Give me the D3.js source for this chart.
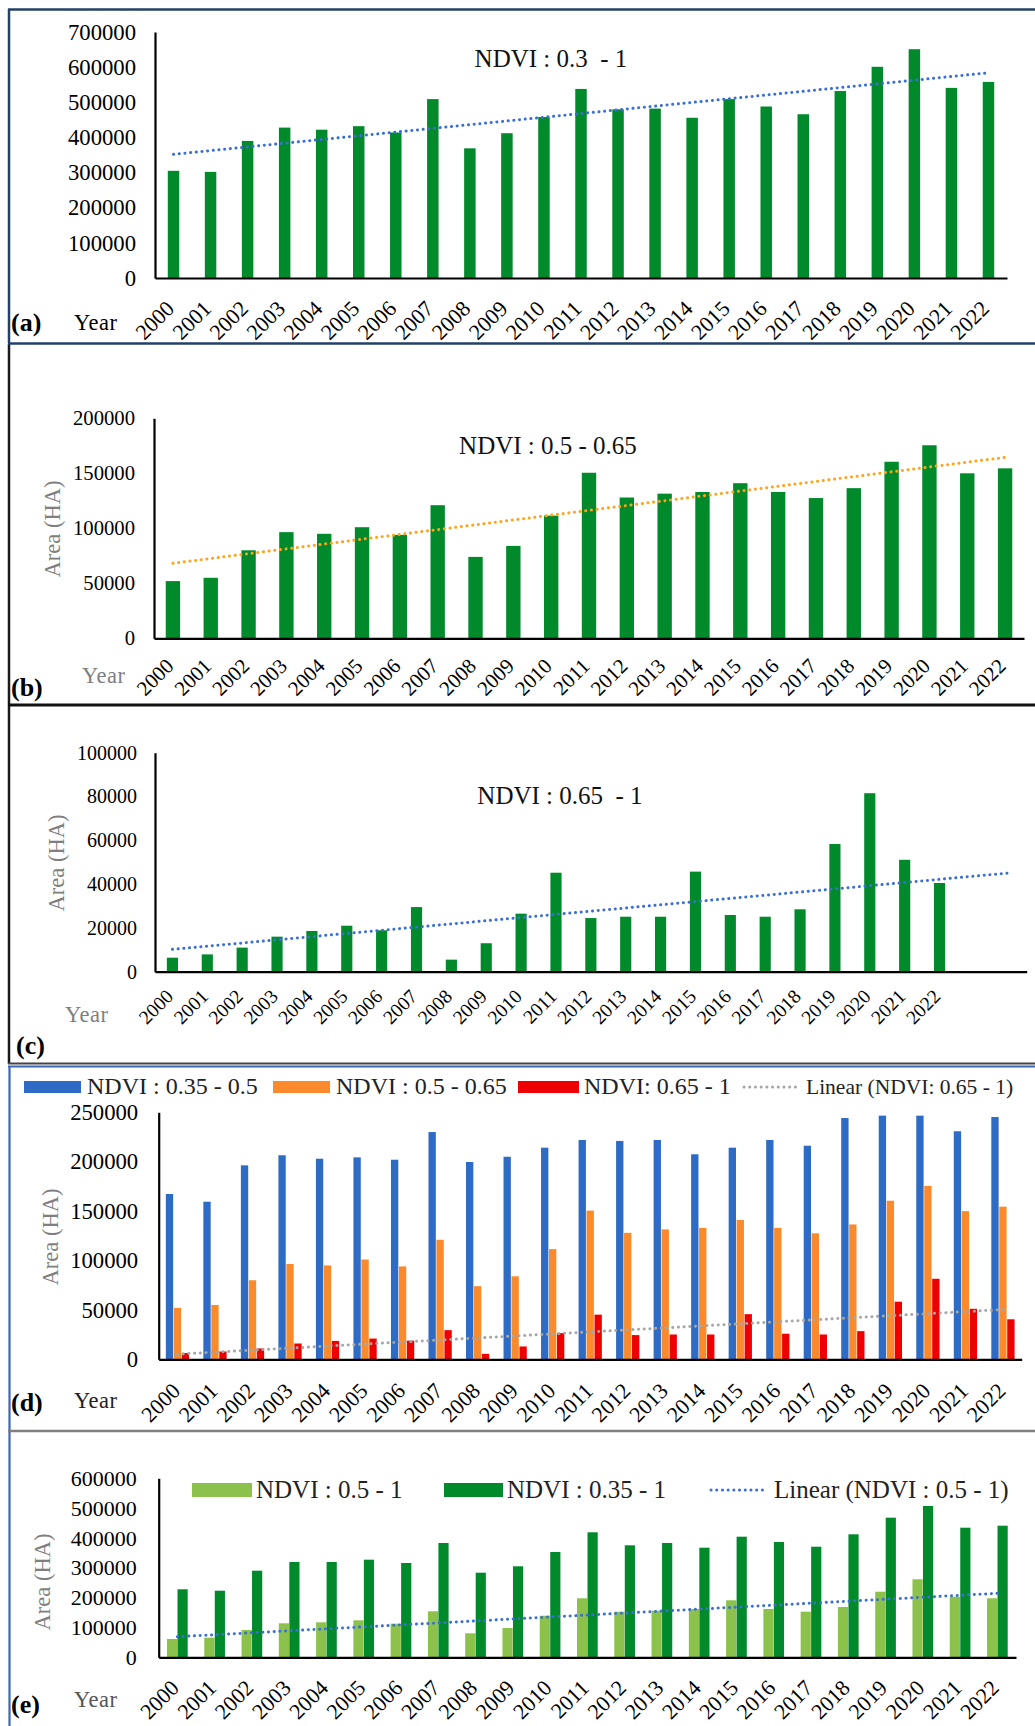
<!DOCTYPE html>
<html><head><meta charset="utf-8">
<script src="https://cdn.jsdelivr.net/npm/d3@7"></script>
<style>
body{margin:0;background:#fff}
svg{display:block}
text{font-family:"Liberation Serif","Times New Roman",serif}
</style>
</head><body>
<svg id="chart" width="1035" height="1726"></svg>
<script>
// ---------------- DATA ----------------
const years = ["2000","2001","2002","2003","2004","2005","2006","2007","2008","2009","2010","2011",
               "2012","2013","2014","2015","2016","2017","2018","2019","2020","2021","2022"];
const blankSlotsC = ["_e1","_e2"];

const ndvi03to1   = [305000,302000,390000,428000,422000,432000,414000,509000,369000,412000,458000,538000,
                     480000,482000,456000,509000,488000,466000,532000,601000,651000,541000,558000];
const ndvi05to065 = [52000,55000,80000,96500,95000,101000,94000,121000,74000,84000,111500,150500,
                     128000,131500,133000,141000,133000,127500,136500,160500,175500,150000,154500];
const ndvi065to1  = [6400,7900,11000,16000,18600,21000,18900,29500,5500,13000,26500,45200,
                     24500,25100,25100,45700,25900,25100,28500,58300,81500,51100,40500];
const ndvi035to05 = [167300,159500,196300,206500,203000,204400,202000,230000,199700,205000,214200,222000,
                     221000,222000,207500,214200,222000,216200,244200,246600,246600,230800,245200];
const ndvi05to1   = [61300,65700,91500,114000,117300,124000,112600,154200,80400,98200,139400,197800,
                     152900,156200,161900,191100,161900,152900,168600,219900,261500,203100,197800];
const ndvi035to1  = [228000,223200,290300,319400,319400,327200,316100,383100,283600,305000,353000,419000,
                     375400,383100,367400,404300,386500,370700,412300,468000,507200,434400,441100];

// linear trend lines: value at first and last slot
const trendA = [352000, 584000];
const trendB = [68200, 164500];
const trendC = [10200, 45100];
const trendD = [5200, 50300];
const trendE = [69000, 214500];

const ticksA = [0,100000,200000,300000,400000,500000,600000,700000];
const ticksB = [0,50000,100000,150000,200000];
const ticksC = [0,20000,40000,60000,80000,100000];
const ticksD = [0,50000,100000,150000,200000,250000];
const ticksE = [0,100000,200000,300000,400000,500000,600000];

const titleA = "NDVI : 0.3  - 1";
const titleB = "NDVI : 0.5 - 0.65";
const titleC = "NDVI : 0.65  - 1";
const legendD = ["NDVI : 0.35 - 0.5","NDVI : 0.5 - 0.65","NDVI: 0.65 - 1","Linear (NDVI: 0.65 - 1)"];
const legendE = ["NDVI : 0.5 - 1","NDVI : 0.35 - 1","Linear (NDVI : 0.5 - 1)"];

// ---------------- STYLE ----------------
const C = {
  green:"#008A2C", light:"#8CC24B", blue:"#2E6BC4", orange:"#FA8A2C", red:"#EE0000",
  tBlue:"#3A6FD8", tOrange:"#FFA31A", tGray:"#A6A6A6", gray:"#7F7F7F"
};

const svg = d3.select("#chart");

function panel(o){
  const g = svg.append("g");
  const x = d3.scaleBand().domain(o.cats).range([o.x0,o.x1])
              .paddingInner(o.pad).paddingOuter(o.pad/2);
  const y = d3.scaleLinear().domain([0,o.max]).range([o.yb,o.yt]);
  const xs = d3.scaleBand().domain(d3.range(o.series.length)).range([0,x.bandwidth()])
              .paddingInner(o.inner||0);

  o.series.forEach((s,i)=>{
    g.append("g").selectAll("rect").data(s.values).join("rect")
      .attr("x",(v,j)=>x(o.cats[j])+xs(i))
      .attr("width",xs.bandwidth())
      .attr("y",v=>y(v))
      .attr("height",v=>y(0)-y(v))
      .attr("fill",s.color);
  });

  // trend
  const c0 = o.cats[0], c1 = o.cats[o.cats.length-1];
  g.append("line")
    .attr("x1",x(c0)+x.bandwidth()/2).attr("y1",y(o.trend[0]))
    .attr("x2",x(c1)+x.bandwidth()/2).attr("y2",y(o.trend[1]))
    .attr("stroke",o.trendColor).attr("stroke-width",3)
    .attr("stroke-linecap","round").attr("stroke-dasharray","0.1,5.6");

  // y axis
  const ya = g.append("g").attr("transform",`translate(${o.x0},0)`)
    .call(d3.axisLeft(y).tickValues(o.ticks).tickSize(0).tickSizeOuter(0)
            .tickPadding(o.tp).tickFormat(d3.format("d")));
  ya.attr("font-family",null).attr("font-size",null);
  ya.select(".domain").attr("stroke","#000").attr("stroke-width",2.2);
  ya.selectAll("text").attr("font-size",o.tfs).attr("fill","#000");

  // x axis
  const xa = g.append("g").attr("transform",`translate(0,${o.yb})`)
    .call(d3.axisBottom(x).tickSize(0).tickSizeOuter(0)
            .tickFormat(d=>d.startsWith("_")?"":d));
  xa.attr("font-family",null).attr("font-size",null);
  xa.select(".domain").attr("stroke","#000").attr("stroke-width",2.2);
  xa.selectAll("text").attr("font-size",o.lfs).attr("fill","#000")
    .attr("y",0).attr("dy",0).attr("text-anchor","end")
    .attr("transform",`translate(${o.ldx},${o.ldy}) rotate(-45)`);

  // title
  if (o.title) g.append("text").attr("x",o.title[1]).attr("y",o.title[2])
      .attr("text-anchor","middle").attr("font-size",25).attr("fill","#111")
      .style("white-space","pre").text(o.title[0]);

  // Area (HA)
  if (o.area) g.append("text")
      .attr("transform",`translate(${o.area[0]},${o.area[1]}) rotate(-90)`)
      .attr("text-anchor","middle").attr("font-size",22.5).attr("fill",C.gray).text("Area (HA)");

  // Year
  g.append("text").attr("x",o.year[0]).attr("y",o.year[1]).attr("font-size",22.5)
    .attr("letter-spacing","0.5").attr("fill",o.year[2]).text("Year");
  // panel letter
  g.append("text").attr("x",o.letter[0]).attr("y",o.letter[1]).attr("font-size",26)
    .attr("font-weight","bold").attr("fill","#000").text(o.letter[2]);
  return {x,y};
}

// ---------------- BORDERS ----------------
function hline(x1,x2,yv,col,w){svg.append("line").attr("x1",x1).attr("x2",x2).attr("y1",yv).attr("y2",yv).attr("stroke",col).attr("stroke-width",w);}
function vline(xv,y1,y2,col,w){svg.append("line").attr("x1",xv).attr("x2",xv).attr("y1",y1).attr("y2",y2).attr("stroke",col).attr("stroke-width",w);}
hline(8,1035,9.5,"#22406A",2.5);
vline(9,9,343,"#22406A",2.5);
vline(9,344,1064,"#1b1b1b",2.5);
hline(8,1035,343.5,"#22406A",2.5);
hline(8,1035,705,"#111",3.2);
hline(8,1035,1063.5,"#444",2.2);
hline(8,1035,1066.5,"#3A67B8",2.2);
vline(9.5,1066,1726,"#3A67B8",2.2);
hline(8,1035,1431,"#808080",2.4);

// ---------------- PANELS ----------------
panel({cats:years, x0:155, x1:1007, yt:32, yb:278, max:700000, pad:0.69,
  series:[{values:ndvi03to1,color:C.green}], trend:trendA, trendColor:C.tBlue,
  ticks:ticksA, tfs:22.7, tp:19, lfs:22, ldx:2, ldy:32,
  title:[titleA,551,67], year:[74,330,"#000"], letter:[11,331,"(a)"]});

panel({cats:years, x0:154, x1:1024, yt:418.3, yb:638.3, max:200000, pad:0.62,
  series:[{values:ndvi05to065,color:C.green}], trend:trendB, trendColor:C.tOrange,
  ticks:ticksB, tfs:20.7, tp:19, lfs:21, ldx:2, ldy:29,
  title:[titleB,548,454], area:[60,529], year:[82,683,C.gray], letter:[11,696,"(b)"]});

panel({cats:years.concat(blankSlotsC), x0:155, x1:1026.7, yt:752.7, yb:971.7, max:100000, pad:0.68,
  series:[{values:ndvi065to1,color:C.green}], trend:trendC, trendColor:C.tBlue,
  ticks:ticksC, tfs:20, tp:18, lfs:19.5, ldx:2, ldy:26,
  title:[titleC,560,804], area:[64,863], year:[65,1022,C.gray], letter:[16,1054,"(c)"]});

panel({cats:years, x0:158.7, x1:1021.7, yt:1112.3, yb:1359.3, max:250000, pad:0.38, inner:0.08,
  series:[{values:ndvi035to05,color:C.blue},{values:ndvi05to065,color:C.orange},{values:ndvi065to1,color:C.red}],
  trend:trendD, trendColor:C.tGray,
  ticks:ticksD, tfs:22.7, tp:20.5, lfs:22, ldx:4, ldy:33,
  area:[58,1237], year:[74,1408,"#222"], letter:[11,1411,"(d)"]});

panel({cats:years, x0:158.7, x1:1016, yt:1478.3, yb:1657.3, max:600000, pad:0.445, inner:0.03,
  series:[{values:ndvi05to1,color:C.light},{values:ndvi035to1,color:C.green}],
  trend:trendE, trendColor:C.tBlue,
  ticks:ticksE, tfs:22, tp:22, lfs:22, ldx:3, ldy:32,
  area:[50,1582], year:[74,1707,"#555"], letter:[11,1713,"(e)"]});

// ---------------- LEGENDS ----------------
function legendItem(type,color,x1,x2,yc,h,tx,ty,label,fs){
  if(type==="rect"){
    svg.append("rect").attr("x",x1).attr("y",yc-h/2).attr("width",x2-x1).attr("height",h).attr("fill",color);
  } else {
    svg.append("line").attr("x1",x1).attr("x2",x2).attr("y1",yc).attr("y2",yc)
      .attr("stroke",color).attr("stroke-width",3).attr("stroke-linecap","round").attr("stroke-dasharray","0.1,5.6");
  }
  svg.append("text").attr("x",tx).attr("y",ty).attr("font-size",fs).attr("fill","#222").text(label);
}
legendItem("rect",C.blue,24,81,1087,12,87,1094,legendD[0],24);
legendItem("rect",C.orange,273,330,1087,12,336,1094,legendD[1],24);
legendItem("rect",C.red,518,579,1087,12,584,1094,legendD[2],24);
legendItem("line",C.tGray,744,799,1087,0,806,1094,legendD[3],21.5);

legendItem("rect",C.light,192,252,1490,14,256,1498,legendE[0],25);
legendItem("rect",C.green,444,503,1490,14,507,1498,legendE[1],25);
legendItem("line",C.tBlue,711,765,1490,0,774,1498,legendE[2],25);
</script>
</body></html>
